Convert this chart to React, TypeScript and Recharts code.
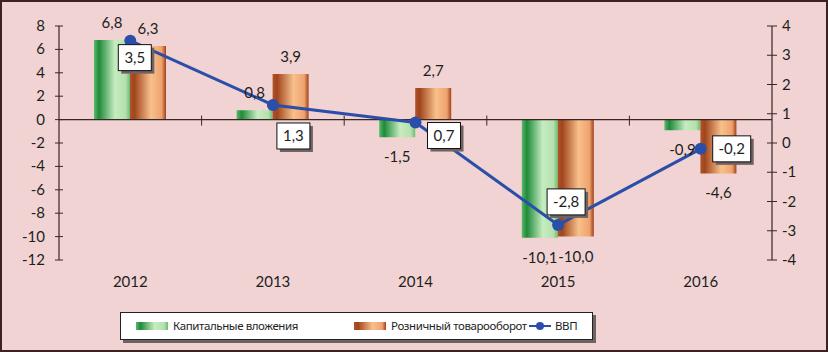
import React from 'react'
import { ComposedChart, Bar, Line, XAxis, YAxis, ReferenceLine, LabelList, Legend } from 'recharts'

const years = ['2012', '2013', '2014', '2015', '2016']
const capital = [6.8, 0.8, -1.5, -10.1, -0.9]
const retail = [6.3, 3.9, 2.7, -10.0, -4.6]
const gdp = [3.5, 1.3, 0.7, -2.8, -0.2]
const leftTicks = [-12, -10, -8, -6, -4, -2, 0, 2, 4, 6, 8]
const rightTicks = [-4, -3, -2, -1, 0, 1, 2, 3, 4]

const data = years.map((year, i) => ({
  year,
  capital: capital[i],
  retail: retail[i],
  gdp: gdp[i],
}))

const FONT = 'Lato, "Noto Sans", sans-serif'
const AXIS = '#3a2626'
const TEXT = '#1e1e1e'
const LINE = '#2b4fa8'

// where each GDP label box sits relative to its point (top-left corner)
const gdpBoxOffsets = [
  [-12, 4],
  [4, 18],
  [12, 0],
  [-11, -36],
  [12, -13],
]

const fmt = (v: number) => v.toFixed(1).replace('.', ',')

function LeftTick(props: any) {
  const { x, y, payload } = props
  return (
    <g>
      <line x1={x - 4} x2={x + 4} y1={y} y2={y} stroke={AXIS} />
      <text x={x - 14} y={y} dy={5} textAnchor="end" fontSize={15} fontFamily={FONT} fill={TEXT}>
        {payload.value}
      </text>
    </g>
  )
}

function RightTick(props: any) {
  const { x, y, payload } = props
  return (
    <g>
      <line x1={x - 5} x2={x + 5} y1={y} y2={y} stroke={AXIS} />
      <text x={x + 10} y={y} dy={5} textAnchor="start" fontSize={15} fontFamily={FONT} fill={TEXT}>
        {payload.value}
      </text>
    </g>
  )
}

function BarValue(props: any) {
  const { x, y, width, height, value } = props
  const top = Math.min(y, y + height)
  const bottom = Math.max(y, y + height)
  const cy = value >= 0 ? top - 17 : bottom + 20
  return (
    <text x={x + width / 2} y={cy} dy={5} textAnchor="middle" fontSize={15} fontFamily={FONT} fill={TEXT}>
      {fmt(value)}
    </text>
  )
}

function GdpLabel(props: any) {
  const { x, y, value, index } = props
  const [dx, dy] = gdpBoxOffsets[index] || [8, 8]
  const label = fmt(value)
  const w = label.length > 3 ? 38 : 33
  const h = 26
  const bx = x + dx
  const by = y + dy
  return (
    <g>
      <rect x={bx + 3} y={by + 3} width={w} height={h} fill="#6e6262" />
      <rect x={bx} y={by} width={w} height={h} fill="#fff" stroke="#111" strokeWidth={1} />
      <text x={bx + w / 2} y={by + h / 2} dy={5} textAnchor="middle" fontSize={15} fontFamily={FONT} fill={TEXT}>
        {label}
      </text>
    </g>
  )
}

function ZeroLine(props: any) {
  const { x1, x2, y1 } = props
  const step = (x2 - x1) / years.length
  return (
    <g>
      <line x1={x1} x2={x2} y1={y1} y2={y1} stroke={AXIS} strokeWidth={1.2} />
      {years.slice(1).map((_, i) => (
        <line key={i} x1={x1 + step * (i + 1)} x2={x1 + step * (i + 1)} y1={y1 - 4} y2={y1 + 6} stroke={AXIS} />
      ))}
    </g>
  )
}

function LegendBox() {
  const item = { display: 'flex', alignItems: 'center', flexShrink: 0, whiteSpace: 'nowrap' as const }
  const text = {
    fontFamily: '"Noto Sans", sans-serif',
    fontSize: 11.5,
    letterSpacing: -0.4,
    color: TEXT,
    whiteSpace: 'nowrap' as const,
  }
  return (
    <div
      style={{
        width: 473,
        height: 28,
        boxSizing: 'border-box',
        background: '#fff',
        border: '1px solid #222',
        boxShadow: '3px 3px 0 #6e6262',
        position: 'relative',
      }}
    >
      <div style={{ ...item, position: 'absolute', left: 15, top: 5 }}>
        <div style={{ width: 32, height: 8, marginRight: 5, background: 'linear-gradient(90deg,#5cb86a 0%,#1f8a3a 14%,#c6ecc0 58%,#b5e0ad 88%,#6abd72 100%)' }} />
        <span style={text}>Капитальные вложения</span>
      </div>
      <div style={{ ...item, position: 'absolute', left: 233, top: 5 }}>
        <div style={{ width: 32, height: 8, marginRight: 5, background: 'linear-gradient(90deg,#b0552a 0%,#a0441c 12%,#f8c08c 58%,#eea26e 88%,#a04018 100%)' }} />
        <span style={text}>Розничный товарооборот</span>
      </div>
      <div style={{ ...item, position: 'absolute', left: 408, top: 5 }}>
        <svg width={22} height={10} style={{ marginRight: 4 }}>
          <line x1={0} x2={22} y1={5} y2={5} stroke={LINE} strokeWidth={2} />
          <circle cx={11} cy={5} r={4} fill={LINE} />
        </svg>
        <span style={text}>ВВП</span>
      </div>
    </div>
  )
}

export default function App() {
  return (
    <div
      style={{
        width: 828,
        height: 352,
        boxSizing: 'border-box',
        border: '2px solid #3b2222',
        background: '#f1d3d3',
        position: 'relative',
      }}
    >
      <style>{'body{margin:0}'}</style>
      <ComposedChart
        width={824}
        height={348}
        data={data}
        margin={{ top: 24, right: 0, left: 0, bottom: 60 }}
        barSize={36}
        barGap={0}
      >
        <defs>
          <linearGradient id="gGreen" x1="0" y1="0" x2="1" y2="0">
            <stop offset="0%" stopColor="#5cb86a" />
            <stop offset="14%" stopColor="#1f8a3a" />
            <stop offset="58%" stopColor="#c6ecc0" />
            <stop offset="88%" stopColor="#b5e0ad" />
            <stop offset="100%" stopColor="#6abd72" />
          </linearGradient>
          <linearGradient id="gOrange" x1="0" y1="0" x2="1" y2="0">
            <stop offset="0%" stopColor="#b0552a" />
            <stop offset="12%" stopColor="#a0441c" />
            <stop offset="58%" stopColor="#f8c08c" />
            <stop offset="88%" stopColor="#eea26e" />
            <stop offset="100%" stopColor="#a04018" />
          </linearGradient>
        </defs>
        <XAxis
          dataKey="year"
          axisLine={false}
          tickLine={false}
          tickSize={0}
          tickMargin={16}
          height={30}
          tick={{ fontSize: 15, fontFamily: FONT, fill: TEXT }}
        />
        <YAxis
          yAxisId="left"
          orientation="left"
          width={57}
          domain={[-12, 8]}
          ticks={leftTicks}
          interval={0}
          axisLine={{ stroke: AXIS, strokeWidth: 1.2 }}
          tickLine={false}
          tickSize={0}
          tickMargin={0}
          tick={<LeftTick />}
        />
        <YAxis
          yAxisId="right"
          orientation="right"
          width={54}
          domain={[-4, 4]}
          ticks={rightTicks}
          interval={0}
          axisLine={{ stroke: AXIS, strokeWidth: 1.2 }}
          tickLine={false}
          tickSize={0}
          tickMargin={0}
          tick={<RightTick />}
        />
        <ReferenceLine yAxisId="left" y={0} shape={<ZeroLine />} />
        <Bar yAxisId="left" dataKey="capital" name="Капитальные вложения" fill="url(#gGreen)" isAnimationActive={false}>
          <LabelList dataKey="capital" content={<BarValue />} />
        </Bar>
        <Bar yAxisId="left" dataKey="retail" name="Розничный товарооборот" fill="url(#gOrange)" isAnimationActive={false}>
          <LabelList dataKey="retail" content={<BarValue />} />
        </Bar>
        <Line
          yAxisId="right"
          dataKey="gdp"
          name="ВВП"
          stroke={LINE}
          strokeWidth={3}
          dot={{ r: 6, fill: LINE, stroke: LINE, strokeWidth: 0 }}
          activeDot={false}
          isAnimationActive={false}
        >
          <LabelList dataKey="gdp" content={<GdpLabel />} />
        </Line>
        <Legend
          layout="vertical"
          verticalAlign="middle"
          align="center"
          wrapperStyle={{ left: 118, top: 310, width: 473, height: 28 }}
          content={<LegendBox />}
        />
      </ComposedChart>
    </div>
  )
}
